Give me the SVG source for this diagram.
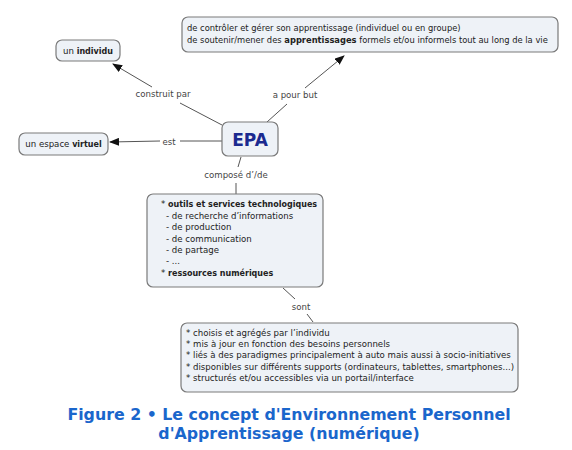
<svg xmlns="http://www.w3.org/2000/svg" width="572" height="450" viewBox="0 0 572 450">
<style>
.box{fill:#eef2f7;stroke:#7a7a7a;stroke-width:1.2}
.t{font-family:"DejaVu Sans",Verdana,sans-serif;font-size:8.6px;fill:#222}
.b{font-weight:bold;font-size:8px}
.lbl{font-family:"DejaVu Sans",Verdana,sans-serif;font-size:8.6px;fill:#444;text-anchor:middle}
.ln{stroke:#555;stroke-width:1;fill:none}
.cap{font-family:"DejaVu Sans",Verdana,sans-serif;font-size:15.8px;font-weight:bold;fill:#1a66cc;text-anchor:middle}
</style>
<defs>
<marker id="ah" markerWidth="10" markerHeight="8" refX="9" refY="4" orient="auto" markerUnits="userSpaceOnUse">
<path d="M0,0 L10,4 L0,8 Z" fill="#111"/>
</marker>
</defs>
<rect width="572" height="450" fill="#ffffff"/>
<g id="connectors">
<line class="ln" x1="222" y1="125" x2="180" y2="103"/>
<line class="ln" x1="152" y1="87" x2="113" y2="64" marker-end="url(#ah)"/>
<text class="lbl" x="163" y="97">construit par</text>
<line class="ln" x1="222" y1="141" x2="180" y2="141"/>
<line class="ln" x1="160" y1="141" x2="110" y2="142" marker-end="url(#ah)"/>
<text class="lbl" x="169" y="145">est</text>
<line class="ln" x1="267" y1="122" x2="287" y2="104"/>
<line class="ln" x1="305" y1="88" x2="344" y2="56" marker-end="url(#ah)"/>
<text class="lbl" x="295" y="98">a pour but</text>
<line class="ln" x1="241" y1="157" x2="238" y2="167"/>
<line class="ln" x1="236" y1="183" x2="236" y2="194"/>
<text class="lbl" x="236" y="178">composé d’/de</text>
<line class="ln" x1="283" y1="288" x2="295" y2="299"/>
<line class="ln" x1="307" y1="314" x2="313" y2="322"/>
<text class="lbl" x="301" y="310">sont</text>
</g>
<g id="n-but">
<rect class="box" x="182" y="17" width="376" height="35" rx="6"/>
<text class="t" x="187" y="31" style="font-size:8.35px">de contrôler et gérer son apprentissage (individuel ou en groupe)</text>
<text class="t" x="187" y="43" style="font-size:8.35px">de soutenir/mener des <tspan style="font-weight:bold">apprentissages</tspan> formels et/ou informels tout au long de la vie</text>
</g>
<g id="n-individu">
<rect class="box" x="56" y="40" width="64" height="21" rx="6"/>
<text class="t" x="88" y="54" text-anchor="middle">un <tspan class="b">individu</tspan></text>
</g>
<g id="n-virtuel">
<rect class="box" x="19" y="133" width="89" height="22" rx="6"/>
<text class="t" x="63.5" y="147" text-anchor="middle">un espace <tspan class="b">virtuel</tspan></text>
</g>
<g id="n-epa">
<rect class="box" x="222" y="122" width="56" height="34" rx="6"/>
<text x="250" y="146" text-anchor="middle" style="font-family:'DejaVu Sans',Verdana,sans-serif;font-size:17px;font-weight:bold;fill:#1b2a8f">EPA</text>
</g>
<g id="n-outils">
<rect class="box" x="147" y="194" width="176" height="93" rx="6"/>
<text class="t" x="161" y="207">* <tspan class="b">outils et services technologiques</tspan></text>
<text class="t" x="166" y="219">- de recherche d’informations</text>
<text class="t" x="166" y="230">- de production</text>
<text class="t" x="166" y="242">- de communication</text>
<text class="t" x="166" y="253">- de partage</text>
<text class="t" x="166" y="264">- ...</text>
<text class="t" x="161" y="276">* <tspan class="b">ressources numériques</tspan></text>
</g>
<g id="n-sont">
<rect class="box" x="181" y="323" width="337" height="69" rx="6"/>
<text class="t" x="186" y="336">* choisis et agrégés par l’individu</text>
<text class="t" x="186" y="347">* mis à jour en fonction des besoins personnels</text>
<text class="t" x="186" y="358">* liés à des paradigmes principalement à auto mais aussi à socio-initiatives</text>
<text class="t" x="186" y="370">* disponibles sur différents supports (ordinateurs, tablettes, smartphones...)</text>
<text class="t" x="186" y="381">* structurés et/ou accessibles via un portail/interface</text>
</g>
<g id="caption">
<text class="cap" x="289" y="420">Figure 2 • Le concept d'Environnement Personnel</text>
<text class="cap" x="289" y="439">d'Apprentissage (numérique)</text>
</g>
</svg>
